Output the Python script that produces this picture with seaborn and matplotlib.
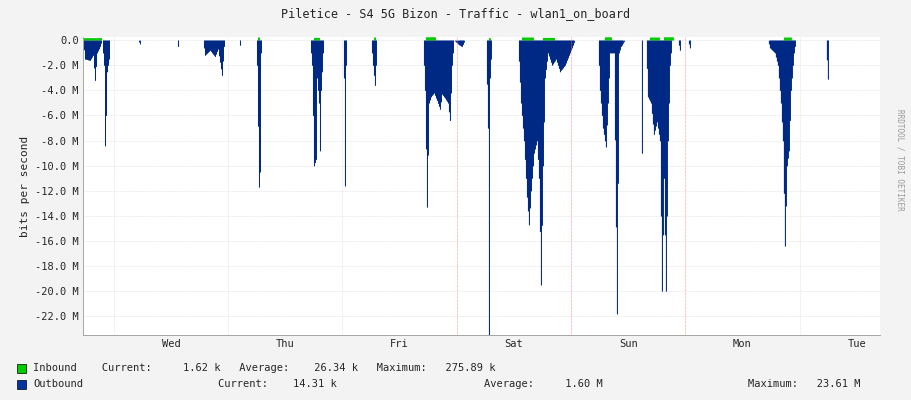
import matplotlib
matplotlib.use("Agg")
import matplotlib.pyplot as plt
import seaborn as sns
import numpy as np

out_hours = [0,0.42,1.47,2.1,2.52,2.94,3.57,3.99,4.41,4.62,4.83,5.04,5.46,5.67,
 11.55,11.97,12.18,19.74,19.95,20.16,
 25.2,25.62,26.67,27.72,28.35,29.19,29.61,29.82,32.76,32.97,33.18,
 36.33,36.54,36.96,37.17,37.38,37.59,
 47.67,48.09,48.51,48.93,49.14,49.56,49.77,49.98,50.4,50.61,
 54.6,54.81,55.02,55.23,55.44,
 60.48,60.9,61.32,61.53,61.74,
 71.4,71.82,72.24,72.66,73.08,73.71,74.34,74.97,75.39,76.02,76.65,77.07,77.49,77.91,78.75,79.59,80.22,
 84.63,85.05,85.26,85.47,85.89,
 91.35,91.98,92.61,93.24,93.66,94.08,94.71,95.34,95.76,96.18,96.6,97.02,97.65,98.49,99.33,100.17,101.22,102.27,103.32,
 108.15,108.57,109.2,109.83,110.25,110.67,111.51,112.14,112.56,112.98,113.82,117.18,117.39,117.6,
 118.23,118.65,119.28,119.91,120.54,121.17,121.59,122.01,122.43,122.85,123.27,123.69,124.95,125.37,125.58,127.05,127.47,127.68,
 143.85,144.27,145.32,145.95,146.58,147.0,147.42,147.84,148.26,148.68,149.31,149.73,156.03,156.45,156.66,157.92]
out_values = [0,-1.5,-1.6,-1.2,-3.2,-1.0,-0.5,0,-2,-8.4,-6,-2.5,-1.5,0,
 0,-0.3,0,0,-0.5,0,
 0,-1.2,-0.8,-1.3,-0.7,-2.8,-0.5,0,0,-0.4,0,
 0,-2,-11.7,-10.5,-1,0,
 0,-2,-10,-9.5,-3,-5,-8.8,-4,-1,0,
 0,-3,-11.6,-2,0,
 0,-2,-3.6,-2,0,
 0,-4,-13.3,-5,-4.5,-4.2,-4.8,-5.5,-4.3,-4.6,-5,-6.4,-2,0,-0.3,-0.5,0,
 0,-7,-23.5,-3,0,
 0,-5,-8,-12.5,-14.7,-12,-9,-8,-11,-19.5,-10,-3,-1,-2,-1.5,-2.5,-2,-1,0,
 0,-4,-7,-8.5,-5,-1,-1,-21.8,-1,-0.5,0,0,-9,0,
 0,-4.5,-5,-7.5,-6.5,-8,-20,-11,-20,-8,-2,0,0,-0.8,0,0,-0.6,0,
 0,-0.6,-1,-2,-5,-8,-16.4,-10,-8.8,-4,-1,0,0,-3.1,0,0]

# inbound bumps: (start, end, height in M)
in_start = [0.2, 36.6, 48.4, 61.0, 72.0, 85.1, 92.0, 96.5, 109.5, 119.0, 122.0, 147.2]
in_end   = [3.8, 37.1, 49.6, 61.5, 74.0, 85.5, 94.5, 99.0, 111.0, 121.0, 124.0, 148.8]
in_height = [0.2, 0.25, 0.22, 0.25, 0.27, 0.2, 0.25, 0.22, 0.27, 0.25, 0.27, 0.25]

day_labels = ["Wed","Thu","Fri","Sat","Sun","Mon","Tue"]
first_midnight = 6.5

sns.set_theme(style="white")
plt.rcParams['font.family'] = ['DejaVu Sans Mono']
fig = plt.figure(figsize=(9.11, 4.0), dpi=100, facecolor="#F3F3F3")
ax = fig.add_axes([83/911, 65/400, 797/911, 298/400])
ax.set_facecolor("white")

t = np.arange(0, 167.4, 0.21)
ov = np.interp(t, out_hours, out_values)
iv = np.zeros_like(t)
for s, e, h in zip(in_start, in_end, in_height):
    iv[(t >= s) & (t <= e)] = h
ax.fill_between(t, ov, 0, step="mid", color="#0033A0", linewidth=0)
ax.vlines(t[ov < -0.3], ov[ov < -0.3], 0, color="#002070", linewidth=0.4)
ax.fill_between(t, iv, 0, step="mid", color="#00CC00", linewidth=0)

ax.set_xlim(0, 167.4)
ax.set_ylim(-23.5, 0.25)
yt = np.arange(0, -23, -2.0)
ax.set_yticks(yt)
ax.set_yticklabels(["0.0"] + [f"{v:.1f} M" for v in yt[1:]], fontsize=7.5)
mids = [first_midnight + 24*i for i in range(7)]
ax.set_xticks([m + 12 for m in mids])
ax.set_xticklabels(day_labels, fontsize=7.5)
ax.tick_params(length=0, pad=3)
for y in yt:
    ax.axhline(y, color="#DDDDDD", lw=0.5, ls=(0, (1, 1)), zorder=0)
for i, m in enumerate(mids):
    red = i in (3, 4, 5)
    ax.axvline(m, color="#FF8080" if red else "#DDDDDD", lw=0.5, ls=(0, (1, 1)), zorder=3 if red else 0)
for s in ["top", "right"]:
    ax.spines[s].set_visible(False)
ax.spines["left"].set_color("#999999"); ax.spines["bottom"].set_color("#999999")
ax.spines["left"].set_linewidth(0.6); ax.spines["bottom"].set_linewidth(0.6)
ax.set_ylabel("bits per second", fontsize=8)

fig.text(0.5, 0.965, "Piletice - S4 5G Bizon - Traffic - wlan1_on_board", ha="center", va="center", fontsize=8.5)
fig.text(0.988, 0.6, "RRDTOOL / TOBI OETIKER", rotation=270, ha="center", va="center", fontsize=5.5, color="#999999")

fig.patches.append(plt.Rectangle((17/911, 1-373/400), 9/911, 9/400, transform=fig.transFigure, fc="#00CC00", ec="black", lw=0.5))
fig.patches.append(plt.Rectangle((17/911, 1-389/400), 9/911, 9/400, transform=fig.transFigure, fc="#0033A0", ec="black", lw=0.5))
fs = 7.5
fig.text(33/911, 1-368/400, "Inbound    Current:     1.62 k   Average:    26.34 k   Maximum:   275.89 k", fontsize=fs, va="center")
fig.text(33/911, 1-384/400, "Outbound", fontsize=fs, va="center")
fig.text(218/911, 1-384/400, "Current:    14.31 k", fontsize=fs, va="center")
fig.text(484/911, 1-384/400, "Average:     1.60 M", fontsize=fs, va="center")
fig.text(748/911, 1-384/400, "Maximum:   23.61 M", fontsize=fs, va="center")

fig.savefig("out.png", dpi=100, facecolor=fig.get_facecolor())
